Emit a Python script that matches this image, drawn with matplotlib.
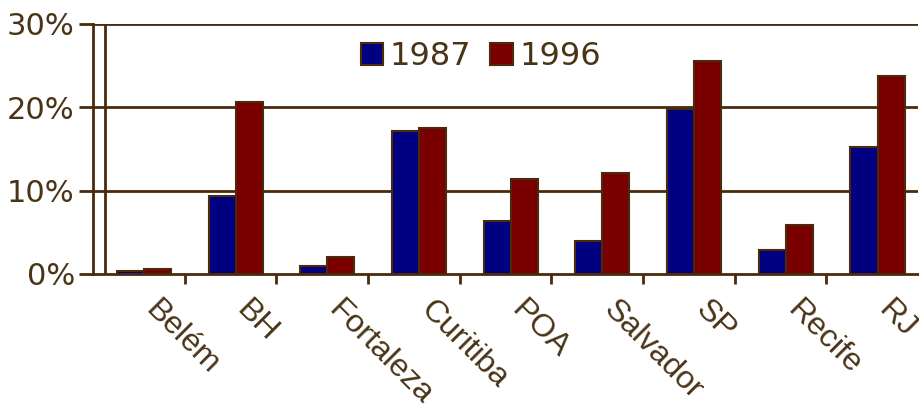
import numpy as np
import matplotlib.pyplot as plt

cities = ["Belém", "BH", "Fortaleza", "Curitiba", "POA", "Salvador", "SP", "Recife", "RJ"]
v1987 = [0.35, 9.4, 1.0, 17.2, 6.4, 4.0, 19.8, 2.9, 15.2]
v1996 = [0.6, 20.6, 2.0, 17.5, 11.4, 12.1, 25.5, 5.9, 23.8]
yticks = [0, 10, 20, 30]

brown = "#4a2a0c"
txt = "#4a3418"

plt.rcParams['font.family'] = ['DejaVu Sans']

fig = plt.figure(figsize=(9.19, 4.04), dpi=100)
ax = fig.add_axes([0.101, 0.322, 0.898, 0.619])

x = np.arange(len(cities))
w = 0.295
ax.bar(x - 0.09, v1987, w, color="#000080", edgecolor=brown, linewidth=1.5, label="1987", zorder=3)
ax.bar(x + 0.205, v1996, w, color="#7a0000", edgecolor=brown, linewidth=1.5, label="1996", zorder=3)

ax.set_xlim(-0.5, len(cities) - 0.5)
ax.set_ylim(0, 30)
ax.set_yticks(yticks)
ax.set_yticklabels([f"{t}%" for t in yticks], fontsize=22, color=txt)
for t in yticks[1:]:
    ax.axhline(t, color=brown, linewidth=2, zorder=1)
ax.axvline(-0.37, color=brown, linewidth=2, zorder=1)

ax.set_xticks(x[:-1] + 0.5)
ax.set_xticklabels([])
ax.tick_params(axis='x', direction='out', length=7, width=2, color=brown)
ax.tick_params(axis='y', direction='out', length=10, width=2, color=brown, pad=3)
for i, c in enumerate(cities):
    ax.text(i + 0.12, -3.8, c, rotation=-45, rotation_mode='anchor', ha='left', va='center',
            fontsize=23, color=txt, family='Liberation Sans')

for s in ["top", "right"]:
    ax.spines[s].set_visible(False)
for s in ["left", "bottom"]:
    ax.spines[s].set_color(brown)
    ax.spines[s].set_linewidth(2)

leg = ax.legend(loc='upper center', bbox_to_anchor=(0.47, 1.045), ncol=2, frameon=False,
                fontsize=23, handlelength=0.7, handleheight=0.7, handletextpad=0.2, columnspacing=0.6)
for t in leg.get_texts():
    t.set_color(txt)

fig.savefig("out.png", dpi=100)
